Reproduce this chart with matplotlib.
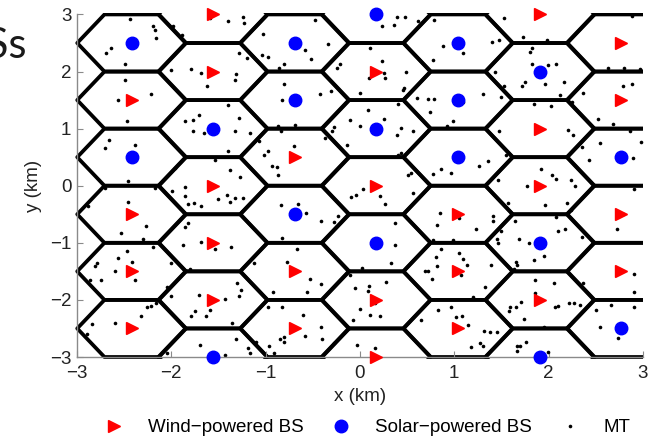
import numpy as np
import matplotlib
matplotlib.use('Agg')
import matplotlib.pyplot as plt
from matplotlib.patches import RegularPolygon, Rectangle
from matplotlib.collections import PatchCollection
from matplotlib.lines import Line2D

plt.rcParams['font.family'] = ['Liberation Sans', 'DejaVu Sans']

# cell centres (km): x of each hexagon column, rows alternate between the two y lists
col_x = [-2.42, -1.56, -0.69, 0.17, 1.04, 1.91, 2.77]
rows_even = [2.5, 1.5, 0.5, -0.5, -1.5, -2.5]
rows_odd = [3, 2, 1, 0, -1, -2, -3]
# W = wind-powered BS, S = solar-powered BS (top to bottom)
col_types = ['SWSWWW', 'WWSWWWS', 'SSWSWW', 'SWSWSWW', 'SSSWWW', 'WSWWSWS', 'WWSWWS']

# mobile terminals (km)
mt_xy = [
    (-2.44, 2.92), (-2.19, 2.79), (-2.17, 2.73), (-2.16, 2.59), (-2.64, 2.42), (-2.69, 2.33),
    (-2.49, 2.13), (-1.98, 2.79), (-1.89, 2.64), (-2.49, 1.85), (-2.57, 1.50), (-2.21, 1.60),
    (-2.47, 1.13), (-2.66, 0.80), (-2.70, 0.66), (-2.39, 0.71), (-2.46, 0.08), (-2.00, 2.03),
    (-1.79, 2.05), (-1.69, 1.97), (-1.62, 1.74), (-1.86, 1.14), (-1.77, 1.16), (-1.71, 1.24),
    (-1.77, 0.96), (-1.65, 0.92), (-1.59, 2.94), (-1.96, 0.31), (-1.54, 0.45),
    (-1.40, 2.89), (-1.24, 2.96), (-1.23, 2.85), (-0.48, 2.90), (-1.03, 2.66), (-0.58, 2.38),
    (-0.52, 2.22), (-0.34, 2.48), (-1.28, 2.33), (-1.20, 2.24), (-1.04, 2.29), (-0.98, 2.26),
    (-0.80, 2.13), (-0.86, 2.06), (-0.21, 2.13), (-0.24, 2.06), (-1.31, 1.96), (-1.33, 1.85),
    (-0.81, 1.78), (-0.42, 1.60), (-0.31, 1.66), (-0.83, 1.51), (-1.40, 1.41), (-1.28, 1.18),
    (-1.33, 0.95), (-1.17, 0.93), (-0.87, 1.04), (-0.69, 1.06), (-0.84, 0.96), (-0.30, 0.95),
    (-0.27, 1.02), (-0.37, 0.84), (-0.14, 0.71), (-0.11, 1.15), (-1.07, 0.79), (-0.70, 0.70),
    (-0.97, 0.60), (-1.02, 0.53), (-0.93, 0.35), (-0.88, 0.33), (-0.87, 0.18), (-1.38, 0.28),
    (-1.27, 0.16), (-1.40, 0.60),
    (0.39, 2.95), (0.48, 2.96), (0.23, 2.79), (0.36, 2.82), (0.62, 2.89), (0.79, 2.90),
    (0.88, 2.45), (1.09, 2.32), (0.77, 2.20), (1.40, 2.51), (1.47, 2.55), (0.11, 2.41),
    (0.23, 2.19), (0.49, 2.00), (0.26, 1.97), (0.10, 1.88), (0.27, 1.89), (0.47, 1.71),
    (0.46, 1.68), (0.00, 1.62), (0.60, 1.54), (0.72, 1.52), (0.78, 1.52), (1.09, 1.47),
    (1.30, 1.60), (0.40, 1.44), (0.74, 1.30), (0.99, 1.13), (0.08, 1.32), (0.26, 1.17),
    (0.00, 1.04), (0.43, 1.01), (0.56, 0.96), (0.39, 0.88), (0.92, 1.04), (0.44, 0.57),
    (0.40, 0.54), (1.26, 0.35), (1.36, 0.44), (0.86, 0.29), (0.77, 0.20), (0.97, 0.23),
    (0.54, 0.22), (0.51, 0.18), (1.43, 2.00),
    (1.53, 2.93), (1.73, 2.60), (1.98, 2.55), (1.82, 2.41), (1.80, 2.34), (2.08, 2.14),
    (1.99, 2.11), (1.82, 2.14), (1.96, 1.79), (2.16, 1.81), (1.75, 1.82), (1.72, 1.75),
    (1.53, 1.75), (1.50, 1.56), (2.12, 1.59), (2.36, 1.62), (1.84, 1.44), (2.02, 1.40),
    (2.25, 1.47), (2.63, 2.06), (2.80, 2.07), (2.97, 2.05), (2.88, 2.98), (2.79, 1.74),
    (2.88, 1.78), (2.52, 1.17), (2.68, 1.08), (2.86, 0.95), (1.47, 0.95), (2.21, 0.98),
    (2.26, 0.89), (2.55, 0.74), (2.98, 0.77), (2.35, 0.67), (2.43, 0.45), (2.89, 0.49),
    (2.80, 0.48), (1.92, 0.29), (2.04, 0.18), (2.08, 0.12), (1.46, 0.10), (2.24, 0.10),
    (1.55, 0.54),
    (-2.88, -0.36), (-2.46, -0.28), (-2.27, -0.70), (-2.53, -0.83), (-2.30, -0.94), (-2.47, -1.14),
    (-2.56, -1.26), (-2.42, -1.33), (-2.79, -1.36), (-2.81, -1.40), (-2.60, -1.49), (-2.75, -1.65),
    (-2.86, -1.65), (-2.39, -1.65), (-2.19, -1.07), (-1.99, -0.10), (-1.86, -0.03), (-1.86, -0.18),
    (-1.76, -0.30), (-1.82, -0.32), (-1.69, -0.35), (-1.50, -0.24), (-1.82, -0.66), (-1.86, -0.73),
    (-1.88, -1.04), (-1.69, -0.98), (-1.57, -0.98), (-1.54, -1.11), (-1.80, -1.46), (-2.00, -1.36),
    (-2.05, -1.78), (-2.00, -1.94), (-1.71, -1.91), (-1.75, -2.20), (-1.79, -2.29), (-1.63, -2.29),
    (-1.59, -2.17), (-2.26, -2.13), (-2.21, -2.11), (-2.16, -2.06), (-2.32, -2.28), (-2.60, -2.40),
    (-2.84, -2.43), (-2.89, -2.59), (-1.70, -2.79), (-2.05, -2.93), (-2.70, -0.04), (-2.17, -0.04),
    (-1.41, -0.16), (-1.38, -0.28), (-1.33, -0.22), (-1.24, -0.22), (-0.84, -0.34), (-0.66, -0.32),
    (-0.57, -0.48), (-0.41, -0.61), (-0.27, -0.63), (-0.23, -0.53), (-0.37, -0.06), (-0.09, -0.19),
    (-0.04, -0.16), (-0.83, -0.92), (-0.67, -1.11), (-0.77, -1.33), (-1.37, -1.07), (-1.12, -1.36),
    (-0.53, -1.64), (-0.41, -1.72), (-0.11, -1.56), (-1.30, -1.71), (-1.26, -1.82), (-1.28, -1.94),
    (-1.43, -1.99), (-0.92, -1.87), (-0.56, -1.87), (-0.97, -2.13), (-0.83, -2.12), (-0.60, -2.26),
    (-0.41, -2.47), (-0.07, -2.35), (-1.36, -2.40), (-1.31, -2.69), (-1.19, -2.85), (-1.17, -2.93),
    (-1.10, -2.73), (-0.96, -2.81), (-0.91, -2.93), (-0.85, -2.69), (-0.81, -2.65), (-0.80, -2.73),
    (-0.58, -2.64), (-0.40, -2.69), (-0.27, -2.76), (-1.43, -2.96), (-0.05, -1.80),
    (0.03, -0.06), (0.21, -0.18), (0.27, -0.32), (0.56, -0.12), (0.85, -0.48), (1.05, -0.56),
    (0.82, -0.69), (1.23, -0.76), (1.41, -0.53), (1.41, -0.61), (0.37, -0.65), (0.37, -1.04),
    (0.33, -1.36), (0.02, -1.44), (0.77, -0.95), (0.99, -0.95), (0.86, -1.11), (0.81, -1.24),
    (1.05, -1.18), (1.09, -1.29), (1.13, -1.39), (0.82, -1.40), (0.69, -1.49), (0.72, -1.49),
    (0.76, -1.64), (1.07, -1.56), (1.39, -1.39), (1.33, -1.78), (0.28, -1.68), (0.10, -1.75),
    (0.09, -1.85), (0.16, -2.06), (0.00, -2.16), (0.11, -2.26), (0.21, -2.29), (1.20, -1.95),
    (0.83, -2.17), (0.96, -2.13), (1.02, -2.30), (1.08, -2.28), (0.65, -2.35), (1.15, -2.44),
    (1.32, -2.55), (1.38, -2.57), (1.27, -2.76), (1.30, -2.81), (1.18, -2.83), (-0.03, -2.79),
    (0.16, -2.85),
    (1.77, -0.00), (2.28, -0.00), (2.91, -0.06), (1.57, -0.30), (1.96, -0.34), (2.19, -0.30),
    (2.24, -0.42), (2.08, -0.54), (1.64, -0.62), (1.50, -0.80), (1.45, -0.94), (1.46, -1.01),
    (2.10, -0.80), (2.17, -0.76), (1.69, -0.94), (1.79, -1.01), (2.35, -0.89), (2.79, -0.49),
    (2.73, -0.76), (1.85, -1.30), (1.95, -1.23), (1.65, -1.33), (1.67, -1.39), (1.63, -1.46),
    (1.86, -1.65), (2.06, -1.71), (2.36, -1.70), (2.90, -1.54), (1.86, -1.88), (2.91, -1.87),
    (1.71, -2.03), (1.65, -2.13), (1.59, -2.12), (1.58, -2.20), (2.10, -2.10), (2.07, -2.12),
    (2.22, -2.05), (2.27, -2.06), (2.33, -2.09), (2.66, -2.09), (2.90, -2.13), (2.50, -2.17),
    (1.74, -2.34), (1.95, -2.47), (2.55, -2.47), (2.74, -2.67), (1.45, -2.57), (1.66, -2.80),
    (1.70, -2.80), (1.76, -2.74), (1.66, -2.90), (1.99, -2.92),
]

legend_labels = ['Wind\u2212powered BS', 'Solar\u2212powered BS', 'MT']

# build the cell lists
bs_x, bs_y, bs_t = [], [], []
for i, cx in enumerate(col_x):
    rows = rows_even if i % 2 == 0 else rows_odd
    for cy, t in zip(rows, col_types[i]):
        bs_x.append(cx)
        bs_y.append(cy)
        bs_t.append(t)
bs_x = np.array(bs_x)
bs_y = np.array(bs_y)
bs_t = np.array(bs_t)
mt = np.array(mt_xy)

fig = plt.figure(figsize=(6.54, 4.42), dpi=100)
ax = fig.add_axes([0.1177, 0.1923, 0.8654, 0.775])

side = 1 / np.sqrt(3)
hexes = [RegularPolygon((x, y), numVertices=6, radius=side, orientation=np.pi / 6)
         for x, y in zip(bs_x, bs_y)]
pc = PatchCollection(hexes, facecolor='none', edgecolor='black', linewidth=2.7, zorder=1)
ax.add_collection(pc)
clip = Rectangle((-3.02, -3.03), 6.02, 6.06, transform=ax.transData)
pc.set_clip_path(clip)

ax.plot(mt[:, 0], mt[:, 1], 'o', color='black', markersize=2.6, markeredgewidth=0,
        zorder=2, clip_on=False)
w = bs_t == 'W'
ax.plot(bs_x[w], bs_y[w], '>', color='#ff0000', markersize=9, zorder=3, clip_on=False)
ax.plot(bs_x[~w], bs_y[~w], 'o', color='#0000ff', markersize=9, zorder=3, clip_on=False)

ax.set_xlim(-3, 3)
ax.set_ylim(-3, 3)
ax.set_xticks(range(-3, 4))
ax.set_yticks(range(-3, 4))
ax.set_xlabel('x (km)', fontsize=13.5, color='#222222', labelpad=4)
ax.set_ylabel('y (km)', fontsize=13.5, color='#222222', labelpad=6)
for s in ['top', 'right']:
    ax.spines[s].set_visible(False)
for s in ['left', 'bottom']:
    ax.spines[s].set_color('#8a8a8a')
    ax.spines[s].set_linewidth(1.0)
ax.tick_params(direction='in', length=4, color='#8a8a8a', labelsize=13.5, labelcolor='#222222')
ax.tick_params(axis='x', pad=6)
ax.tick_params(axis='y', pad=4)

handles = [
    Line2D([], [], linestyle='none', marker='>', color='#ff0000', markersize=9),
    Line2D([], [], linestyle='none', marker='o', color='#0000ff', markersize=9),
    Line2D([], [], linestyle='none', marker='o', color='black', markersize=2.6,
           markeredgewidth=0),
]
fig.legend(handles, legend_labels, loc='center', bbox_to_anchor=(0.555, 0.032), ncol=3,
           frameon=False, fontsize=13.5, handletextpad=0.8, columnspacing=1.0,
           handlelength=2.0)

fig.text(27 / 654, 1 - 46 / 442, 'BSs', fontsize=30, family='Lato', ha='right', va='center',
         color='#1a1a1a')

fig.savefig('out.png', dpi=100)
